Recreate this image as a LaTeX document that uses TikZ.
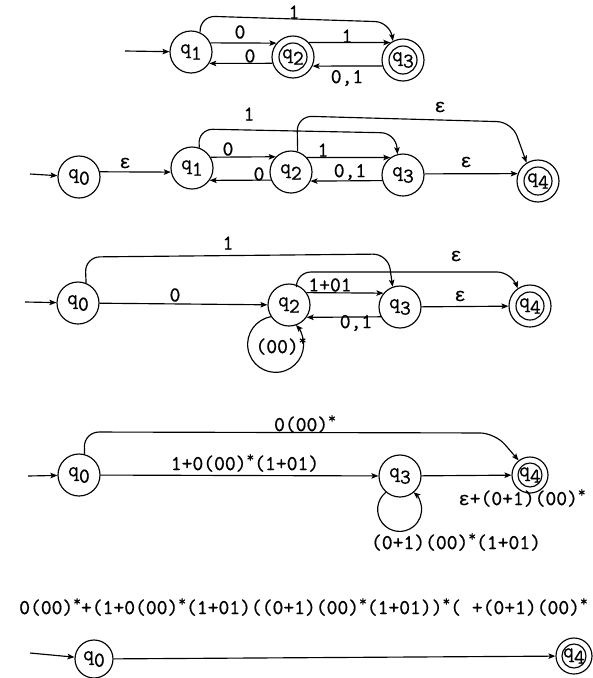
\documentclass[tikz,border=0pt]{standalone}
\usepackage{fontspec}
\setmainfont{Latin Modern Mono}[FakeBold=0.7]
\newfontfamily\greekfont{Liberation Mono}[FakeBold=0.6]
\usetikzlibrary{arrows.meta}
% state label q with a lowered index
\newcommand{\qst}[1]{q\raisebox{-0.3em}{#1}}
% Kleene star written as a raised asterisk
\newcommand{\kst}{\raisebox{0.38em}{\fontsize{15}{15}\selectfont *}}
\newcommand{\eps}{{\greekfont\fontsize{19}{19}\selectfont ε}}
\begin{document}
\begin{tikzpicture}[x=1pt,y=1pt,
  every node/.style={font=\fontsize{21}{21}\selectfont, inner sep=1pt},
  state/.style={circle, draw, line width=1.15pt, minimum size=42pt, inner sep=0pt},
  accept/.style={state, path picture={\draw[line width=1.15pt] (path picture bounding box.center) circle (14pt);}},
  smallaccept/.style={state, minimum size=36pt, path picture={\draw[line width=1.15pt] (path picture bounding box.center) circle (12pt);}},
  tr/.style={-{Stealth[length=7pt,width=5.5pt,inset=1.5pt]}, line width=1.15pt},
  overline/.style={tr, rounded corners=15pt}]
\useasboundingbox (0,0) rectangle (593,-678);

% ---------- automaton 1 ----------
\node[state]  (a1) at (191,-52) {\qst{1}};
\node[accept] (a2) at (293,-57) {\qst{2}};
\node[accept] (a3) at (403,-60) {\qst{3}};
\coordinate (a0) at (125,-51);
\draw[tr] (a0) -- (a1);
\draw[tr] (a1.25) -- (a2.140);
\draw[tr] (a2.197) -- (a1.-32);
\draw[tr] (a2.42) -- (a3.126);
\draw[tr] (a3.196) -- (a2.-25);
\draw[overline] (a1.65) -- (200,-16) -- (390,-22) -- (a3.118);
\node (la1) at (294,-12) {1};
\node (la2) at (240,-32) {0};
\node (la3) at (250,-56) {0};
\node (la4) at (347,-36) {1};
\node (la5) at (347,-78) {0,1};

% ---------- automaton 2 ----------
\node[state]  (b0) at (79,-177)  {\qst{0}};
\node[state]  (b1) at (192,-168) {\qst{1}};
\node[state]  (b2) at (291,-172) {\qst{2}};
\node[state]  (b3) at (403,-175) {\qst{3}};
\node[accept] (b4) at (538,-181) {\qst{4}};
\coordinate (bs) at (30,-174);
\draw[tr] (bs) -- (b0);
\draw[tr] (b0.14) -- (b1.191);
\draw[tr] (b1.30) -- (b2.135);
\draw[tr] (b2.202) -- (b1.-35);
\draw[tr] (b2.42) -- (b3.126);
\draw[tr] (b3.195) -- (b2.-25);
\draw[tr] (b3.3) -- (b4.160);
\draw[overline] (b1.70) -- (198,-129) -- (396,-133) -- (b3.105);
\draw[overline] (b2.72) -- (297,-116) -- (512,-122) -- (b4.122);
\node (lb1) at (125,-163) {\eps};
\node (lb2) at (228,-149) {0};
\node (lb3) at (259,-174) {0};
\node (lb4) at (323,-150) {1};
\node (lb5) at (350,-172) {0,1};
\node (lb6) at (466,-162) {\eps};
\node (lb7) at (249,-114) {1};
\node (lb8) at (440,-107) {\eps};

% ---------- automaton 3 ----------
\node[state]  (c0) at (78,-303)  {\qst{0}};
\node[state]  (c2) at (289,-305) {\qst{2}};
\node[state]  (c3) at (400,-307) {\qst{3}};
\node[accept] (c4) at (530,-306) {\qst{4}};
\coordinate (cs) at (25,-302);
\draw[tr] (cs) -- (c0);
\draw[tr] (c0) -- (c2);
\draw[tr] (c2.35) -- (c3.140);
\draw[tr] (c3.207) -- (c2.-35);
\draw[tr] (c3) -- (c4);
\draw[overline] (c0.68) -- (85,-257) -- (388,-254) -- (c3.110);
\draw[overline] (c2.70) -- (296,-272) -- (512,-272) -- (c4.125);
\draw[tr] (c2.213) arc[start angle=99.7, end angle=403.6, radius=28];
\node (lc1) at (175,-295) {0};
\node (lc2) at (228,-243) {1};
\node (lc3) at (456,-256) {\eps};
\node (lc4) at (330,-285) {1+01};
\node (lc5) at (356,-323) {0,1};
\node (lc6) at (460,-296) {\eps};
\node (lc7) at (281,-346) {(00)\kst};

% ---------- automaton 4 ----------
\node[state]       (d0) at (79,-475)  {\qst{0}};
\node[state]       (d3) at (400,-476) {\qst{3}};
\node[smallaccept] (d4) at (530,-475) {\qst{4}};
\coordinate (ds) at (28,-476);
\draw[tr] (ds) -- (d0);
\draw[tr] (d0) -- (d3);
\draw[tr] (d3) -- (d4);
\draw[overline] (d0.75) -- (84,-432) -- (495,-433) -- (d4.128);
\draw[tr] (d3.229) arc[start angle=128.8, end angle=411.2, radius=22];
\node (ld1) at (305,-424) {0(00)\kst};
\node (ld2) at (245,-463) {1+0(00)\kst(1+01)};
\node (ld3) at (522,-498) {\eps+(0+1)(00)\kst};
\node (ld4) at (456,-542) {(0+1)(00)\kst(1+01)};

% ---------- automaton 5 ----------
\node[anchor=west] (le1) at (18,-607) {0(00)\kst+(1+0(00)\kst(1+01)((0+1)(00)\kst(1+01))\kst( +(0+1)(00)\kst};
\node[state, minimum size=38pt] (e0) at (94,-659) {\qst{0}};
\node[smallaccept] (e4) at (574,-656) {\qst{4}};
\coordinate (es) at (30,-653);
\draw[tr] (es) -- (e0);
\draw[tr] (e0) -- (e4);
\end{tikzpicture}
\end{document}
